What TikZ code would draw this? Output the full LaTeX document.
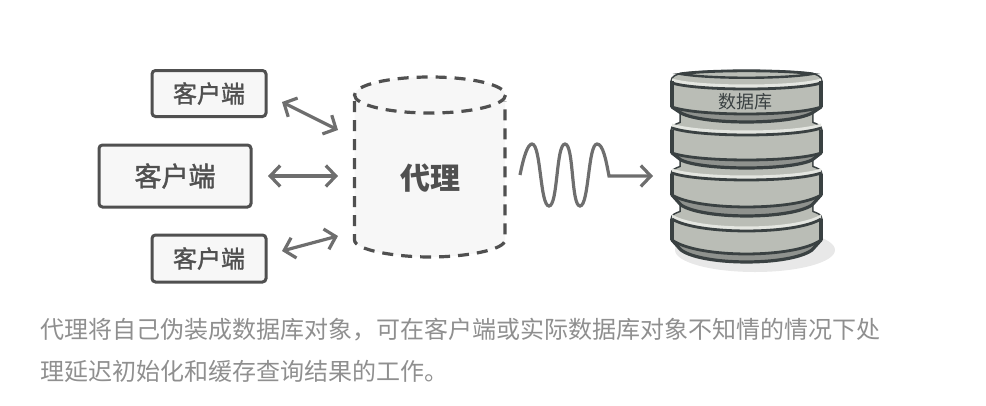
\documentclass[tikz,border=0pt]{standalone}
\usepackage{fontspec}
\setmainfont{Noto Sans CJK SC}
\newfontfamily\cjkmedium[FakeBold=1.4]{Noto Sans CJK SC}
\usetikzlibrary{arrows.meta,positioning}
\definecolor{boxline}{HTML}{505050}
\definecolor{boxfill}{HTML}{F7F7F7}
\definecolor{arrowgray}{HTML}{6E6E6E}
\definecolor{dbline}{HTML}{3A4142}
\definecolor{dbbody}{HTML}{BABDB6}
\definecolor{dbneck}{HTML}{8F928E}
\definecolor{dblight}{HTML}{E4E6E1}
\definecolor{captiongray}{HTML}{8F8F8F}
\tikzset{
clientbox/.style={
  draw=boxline,
  fill=boxfill,
  line width=3pt,
  rounded corners=3.5pt,
  align=center,
  text=boxline,
  font=\fontsize{#1}{#1}\selectfont\cjkmedium
  },
link/.style={
  draw=arrowgray,
  line width=3.2pt,
  {Straight Barb[length=10pt,width=21pt]}-{Straight Barb[length=10pt,width=21pt]}
  },
caption/.style={
  text=captiongray,
  anchor=west,
  inner sep=0pt,
  font=\fontsize{24}{24}\selectfont
  }
}

\begin{document}
\begin{tikzpicture}[x=1pt,y=-1pt]
\useasboundingbox (0,0) rectangle (986,405);

\node[clientbox=24,minimum width=114pt,minimum height=46pt] (client1) at (209,93.5) {客户端};
\node[clientbox=27,minimum width=152pt,minimum height=62pt] (client2) at (175,176) {客户端};
\node[clientbox=24,minimum width=114pt,minimum height=47pt] (client3) at (209,258.5) {客户端};

\coordinate (link1a) at (282,102);
\coordinate (link1b) at (338,130);
\coordinate (link2a) at (268,176);
\coordinate (link2b) at (338,176);
\coordinate (link3a) at (282,251);
\coordinate (link3b) at (338,236);
\draw[link] (link1a) -- (link1b);
\draw[link] (link2a) -- (link2b);
\draw[link] (link3a) -- (link3b);

\fill[boxfill] (354.5,95) -- (354.5,240) .. controls (354.5,250) and (395,257) .. (430,257)
  .. controls (465,257) and (505,250) .. (505,240) -- (505,95) -- cycle;
\draw[boxline,line width=3.2pt,dash pattern=on 11pt off 8pt] (354.5,101) -- (354.5,240)
  .. controls (354.5,250) and (395,257) .. (430,257)
  .. controls (465,257) and (505,250) .. (505,240) -- (505,101);
\draw[boxline,fill=boxfill,line width=3.2pt,dash pattern=on 11pt off 8pt] (430,95) ellipse [x radius=75.5,y radius=18];
\node[text=boxline,font=\fontsize{30}{30}\selectfont\bfseries] (proxy) at (430,178) {代理};

\coordinate (waveStart) at (520,175);
\coordinate (waveEnd) at (609,176);
\coordinate (dbIn) at (653,176);
\draw[arrowgray,line width=3.2pt,-{Straight Barb[length=10pt,width=21pt]}] (waveStart)
  .. controls (524,155) and (528,144) .. (532,144)
  .. controls (541,144) and (540,206) .. (549,206)
  .. controls (558,206) and (556,144) .. (565,144)
  .. controls (574,144) and (571,206) .. (580,206)
  .. controls (589,206) and (588,144) .. (597,144)
  .. controls (603,144) and (606,160) .. (waveEnd) -- (dbIn);

\fill[black!9] (755,250) ellipse [x radius=80,y radius=22];

\foreach \t/\w/\a/\l/\b/\d/\s/\e in {214/10/219/12/240/14/250/12, 169/10/173/7/195/12/205/11, 125/10/128/7/153/7/160/8, 76/0/83/6/107/7/113/9} {
  \filldraw[draw=dbline,fill=dbneck,line width=3.2pt,line join=round] (672,\t+5) .. controls (672,\t+1) and (676,\t) .. (681,\t-2)
    -- (681,\t-2-\w) .. controls (710,\t-6-\w) and (783,\t-6-\w) .. (812,\t-2-\w) -- (812,\t-2)
    .. controls (817,\t) and (821,\t+1) .. (821,\t+5) -- (821,\b) -- (812,\s)
    .. controls (790,\s+\e*1.33) and (703,\s+\e*1.33) .. (681,\s) -- (672,\b) -- cycle;
  \fill[dbbody] (672,\t+5) .. controls (672,\t+1) and (676,\t) .. (681,\t-2)
    -- (681,\t-2-\w) .. controls (710,\t-6-\w) and (783,\t-6-\w) .. (812,\t-2-\w) -- (812,\t-2)
    .. controls (817,\t) and (821,\t+1) .. (821,\t+5) -- (821,\b)
    .. controls (795,\b+\d*1.33) and (698,\b+\d*1.33) .. (672,\b) -- cycle;
  \fill[dblight] (672,\a-4.5) .. controls (698,\a-4.5+\l*1.33) and (795,\a-4.5+\l*1.33) .. (821,\a-4.5)
    -- (821,\a) .. controls (795,\a+\l*1.33) and (698,\a+\l*1.33) .. (672,\a) -- cycle;
  \draw[dbline,line width=2.8pt] (672,\a) .. controls (698,\a+\l*1.33) and (795,\a+\l*1.33) .. (821,\a);
  \draw[dbline,line width=2.8pt] (672,\b) .. controls (698,\b+\d*1.33) and (795,\b+\d*1.33) .. (821,\b);
  \draw[dbline,line width=3.2pt,line join=round] (672,\t+5) -- (672,\b) (821,\t+5) -- (821,\b);
}
\filldraw[draw=dbline,fill=dbbody,line width=2.4pt] (681,74) .. controls (710,70) and (783,70) .. (812,74)
  .. controls (783,79) and (710,79) .. (681,74) -- cycle;
\node[text=dbline,font=\fontsize{18}{18}\selectfont] (dbLabel) at (745,102) {数据库};

\node[caption] (captionA) at (40,330) {代理将自己伪装成数据库对象，可在客户端或实际数据库对象不知情的情况下处};
\node[caption] (captionB) at (40,371) {理延迟初始化和缓存查询结果的工作。};
\end{tikzpicture}
\end{document}
